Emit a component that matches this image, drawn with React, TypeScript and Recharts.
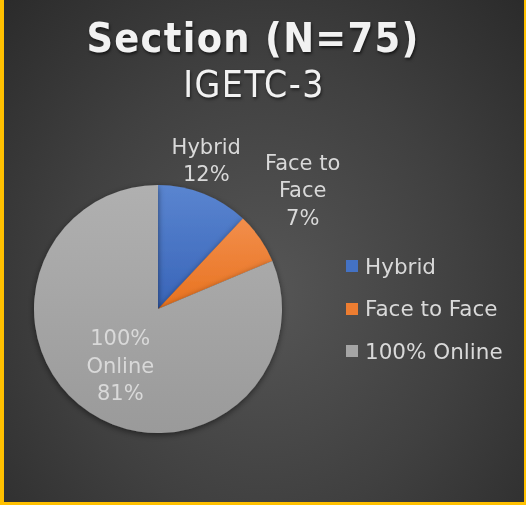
import { PieChart, Pie, Cell } from "recharts";

const categories = ["Hybrid", "Face to Face", "100% Online"];
const counts = [9, 5, 61];
const labelLines = [["Hybrid"], ["Face to", "Face"], ["100%", "Online"]];
const colors = ["#4472C4", "#ED7D31", "#A5A5A5"];
const gradTop = ["#5a85d0", "#f28e4b", "#b0b0b0"];
const gradBottom = ["#3864b8", "#e8721f", "#9a9a9a"];

const data = categories.map((name, i) => ({ name, value: counts[i] }));
const total = counts.reduce((a, b) => a + b, 0);

const RAD = Math.PI / 180;
// label distance (x outer radius) and angle nudge per slice
const labelRadius = [1.26, 1.51, 0.55];
const labelTurn = [3.6, 4.6, 0];

function renderLabel(props: any) {
  const { cx, cy, midAngle, outerRadius, index } = props;
  const r = outerRadius * labelRadius[index];
  const a = (midAngle + labelTurn[index]) * RAD;
  const x = cx + r * Math.cos(-a);
  const y = cy + r * Math.sin(-a);
  const lines = [...labelLines[index], `${Math.round((counts[index] / total) * 100)}%`];
  const lh = 27.5;
  const y0 = y - ((lines.length - 1) * lh) / 2;
  return (
    <text
      key={index}
      x={x}
      y={y0}
      fill="#d9d9d9"
      fontSize={21}
      fontFamily="DejaVu Sans"
      textAnchor="middle"
      dominantBaseline="central"
    >
      {lines.map((l, j) => (
        <tspan key={j} x={x} y={y0 + j * lh}>
          {l}
        </tspan>
      ))}
    </text>
  );
}

export default function App() {
  return (
    <div
      style={{
        position: "fixed",
        left: 0,
        top: 0,
        width: 526,
        height: 505,
        boxSizing: "border-box",
        borderLeft: "4px solid #FFC000",
        borderRight: "2px solid #FFC000",
        borderBottom: "3px solid #FFC000",
        background: "radial-gradient(ellipse at 50% 58%, #565656 0%, #404040 55%, #2b2b2b 100%)",
        fontFamily: "DejaVu Sans",
        overflow: "hidden",
      }}
    >
      <div
        style={{
          position: "absolute",
          left: -14,
          top: 18,
          width: 526,
          textAlign: "center",
          color: "#f2f2f2",
          fontSize: 41,
          lineHeight: 1,
          fontWeight: "bold",
          fontFamily: "'DejaVu Sans Condensed', 'DejaVu Sans'",
          fontStretch: "condensed",
          letterSpacing: 1.3,
          textShadow: "1px 2px 3px rgba(0,0,0,0.6)",
        }}
      >
        Section (N=75)
      </div>
      <div
        style={{
          position: "absolute",
          left: -13,
          top: 66,
          width: 526,
          textAlign: "center",
          color: "#f2f2f2",
          fontSize: 37,
          lineHeight: 1,
          letterSpacing: 1.5,
          fontFamily: "'DejaVu Sans Condensed', 'DejaVu Sans'",
          fontStretch: "condensed",
          textShadow: "1px 2px 3px rgba(0,0,0,0.5)",
        }}
      >
        IGETC-3
      </div>
      <div style={{ position: "absolute", left: -4, top: 0 }}>
        <PieChart width={526} height={505} margin={{ top: 0, right: 0, bottom: 0, left: 0 }}>
          <defs>
            {colors.map((c, i) => (
              <linearGradient key={c} id={`g${i}`} x1="0" y1="0" x2="0" y2="1">
                <stop offset="0%" stopColor={gradTop[i]} />
                <stop offset="100%" stopColor={gradBottom[i]} />
              </linearGradient>
            ))}
            <filter id="sh" x="-20%" y="-20%" width="140%" height="140%">
              <feDropShadow dx="0" dy="2" stdDeviation="3" floodColor="#000" floodOpacity="0.5" />
            </filter>
          </defs>
          <Pie
            data={data}
            dataKey="value"
            nameKey="name"
            cx={158}
            cy={309}
            outerRadius={124}
            startAngle={90}
            endAngle={-270}
            stroke="none"
            label={renderLabel}
            labelLine={false}
            isAnimationActive={false}
            style={{ filter: "url(#sh)" }}
          >
            {data.map((d, i) => (
              <Cell key={d.name} fill={`url(#g${i})`} />
            ))}
          </Pie>
        </PieChart>
      </div>
      <div style={{ position: "absolute", left: 342, top: 252 }}>
        {categories.map((c, i) => (
          <div
            key={c}
            style={{
              display: "flex",
              alignItems: "center",
              height: 28,
              marginBottom: 14.5,
              color: "#d9d9d9",
              fontSize: 21.5,
            }}
          >
            <span
              style={{
                display: "inline-block",
                width: 12,
                height: 12,
                background: colors[i],
                marginRight: 7,
              }}
            />
            {c}
          </div>
        ))}
      </div>
    </div>
  );
}
